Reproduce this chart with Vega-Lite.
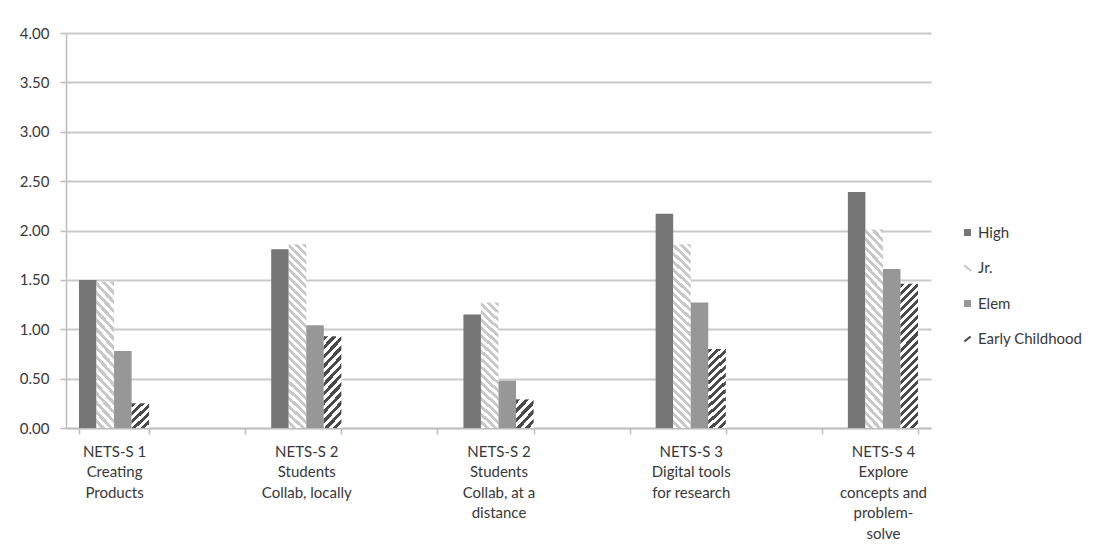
{
  "$schema": "https://vega.github.io/schema/vega-lite/v6.json",
  "autosize": {"type": "none"},
  "width": 865,
  "height": 395,
  "padding": {"left": 66, "top": 33, "right": 166, "bottom": 122},
  "background": "#ffffff",
  "config": {
    "font": "Lato",
    "view": {"stroke": null},
    "axis": {"labelFont": "Lato", "labelFontSize": 15, "labelColor": "#383838", "domainColor": "#bdbdbd", "domainWidth": 1.5, "tickColor": "#bdbdbd", "tickWidth": 1.5, "tickSize": 6, "title": null},
    "legend": {"labelFont": "Lato", "labelFontSize": 15, "labelColor": "#383838"}
  },
  "data": {
    "values": [
      {"category": "NETS-S 1|Creating|Products", "series": "High", "value": 1.50},
      {"category": "NETS-S 1|Creating|Products", "series": "Jr.", "value": 1.48},
      {"category": "NETS-S 1|Creating|Products", "series": "Elem", "value": 0.78},
      {"category": "NETS-S 1|Creating|Products", "series": "Early Childhood", "value": 0.25},
      {"category": "NETS-S 2|Students|Collab, locally", "series": "High", "value": 1.81},
      {"category": "NETS-S 2|Students|Collab, locally", "series": "Jr.", "value": 1.86},
      {"category": "NETS-S 2|Students|Collab, locally", "series": "Elem", "value": 1.04},
      {"category": "NETS-S 2|Students|Collab, locally", "series": "Early Childhood", "value": 0.93},
      {"category": "NETS-S 2|Students|Collab, at a|distance", "series": "High", "value": 1.15},
      {"category": "NETS-S 2|Students|Collab, at a|distance", "series": "Jr.", "value": 1.27},
      {"category": "NETS-S 2|Students|Collab, at a|distance", "series": "Elem", "value": 0.48},
      {"category": "NETS-S 2|Students|Collab, at a|distance", "series": "Early Childhood", "value": 0.29},
      {"category": "NETS-S 3|Digital tools|for research", "series": "High", "value": 2.17},
      {"category": "NETS-S 3|Digital tools|for research", "series": "Jr.", "value": 1.86},
      {"category": "NETS-S 3|Digital tools|for research", "series": "Elem", "value": 1.27},
      {"category": "NETS-S 3|Digital tools|for research", "series": "Early Childhood", "value": 0.80},
      {"category": "NETS-S 4|Explore|concepts and|problem-|solve", "series": "High", "value": 2.39},
      {"category": "NETS-S 4|Explore|concepts and|problem-|solve", "series": "Jr.", "value": 2.01},
      {"category": "NETS-S 4|Explore|concepts and|problem-|solve", "series": "Elem", "value": 1.61},
      {"category": "NETS-S 4|Explore|concepts and|problem-|solve", "series": "Early Childhood", "value": 1.46}
    ]
  },
  "mark": {"type": "bar"},
  "encoding": {
    "x": {
      "field": "category",
      "type": "nominal",
      "sort": null,
      "scale": {
        "domain": ["NETS-S 1|Creating|Products", "g1", "NETS-S 2|Students|Collab, locally", "g2", "NETS-S 2|Students|Collab, at a|distance", "g3", "NETS-S 3|Digital tools|for research", "g4", "NETS-S 4|Explore|concepts and|problem-|solve"],
        "paddingInner": 0.27,
        "paddingOuter": 0.135
      },
      "axis": {
        "labelAngle": 0,
        "labelExpr": "datum.label[0] == 'g' ? '' : split(datum.label, '|')",
        "labelLineHeight": 20.5,
        "labelPadding": 10,
        "labelOverlap": false,
        "labelLimit": 0,
        "tickBand": "extent",
        "grid": false
      }
    },
    "xOffset": {
      "field": "series",
      "type": "nominal",
      "sort": ["High", "Jr.", "Elem", "Early Childhood"],
      "scale": {"paddingInner": 0, "paddingOuter": 0}
    },
    "y": {
      "field": "value",
      "type": "quantitative",
      "scale": {"domain": [0, 4], "nice": false, "zero": true},
      "axis": {
        "values": [0, 0.5, 1, 1.5, 2, 2.5, 3, 3.5, 4],
        "format": ".2f",
        "grid": true,
        "gridColor": "#cacaca",
        "gridWidth": 2,
        "labelPadding": 11
      }
    },
    "fill": {
      "field": "series",
      "type": "nominal",
      "sort": ["High", "Jr.", "Elem", "Early Childhood"],
      "scale": {"domain": ["High", "Jr.", "Elem", "Early Childhood"], "range": ["#767676", "#d0d0d0", "#979797", "#4a4a4a"]},
      "legend": {
        "title": null,
        "orient": "none",
        "legendX": 894,
        "legendY": 192,
        "padding": 0,
        "symbolSize": 49,
        "symbolType": "square",
        "labelOffset": 3,
        "rowPadding": 19.5,
        "encode": {
          "symbols": {
            "update": {
              "shape": {"signal": "datum.value == 'Jr.' ? 'M-1,-0.8L1,0.8' : datum.value == 'Early Childhood' ? 'M-0.9,0.7L0.9,-0.7' : 'square'"},
              "stroke": {"signal": "datum.value == 'Jr.' ? '#c8c8c8' : datum.value == 'Early Childhood' ? '#444444' : 'transparent'"},
              "strokeWidth": {"value": 2}
            }
          }
        }
      },
      "condition": [
        {
          "test": "datum.series == 'Jr.' && datum.value < 1.6",
          "value": {"gradient": "linear", "x1": 1, "y1": 0, "x2": 0.8557, "y2": 1.111, "stops": [
            {"offset":0,"color":"#c8c8c8"},
            {"offset":0.028,"color":"#c8c8c8"},{"offset":0.028,"color":"#ffffff"},
            {"offset":0.056,"color":"#ffffff"},{"offset":0.056,"color":"#c8c8c8"},
            {"offset":0.083,"color":"#c8c8c8"},{"offset":0.083,"color":"#ffffff"},
            {"offset":0.111,"color":"#ffffff"},{"offset":0.111,"color":"#c8c8c8"},
            {"offset":0.139,"color":"#c8c8c8"},{"offset":0.139,"color":"#ffffff"},
            {"offset":0.167,"color":"#ffffff"},{"offset":0.167,"color":"#c8c8c8"},
            {"offset":0.194,"color":"#c8c8c8"},{"offset":0.194,"color":"#ffffff"},
            {"offset":0.222,"color":"#ffffff"},{"offset":0.222,"color":"#c8c8c8"},
            {"offset":0.25,"color":"#c8c8c8"},{"offset":0.25,"color":"#ffffff"},
            {"offset":0.278,"color":"#ffffff"},{"offset":0.278,"color":"#c8c8c8"},
            {"offset":0.306,"color":"#c8c8c8"},{"offset":0.306,"color":"#ffffff"},
            {"offset":0.333,"color":"#ffffff"},{"offset":0.333,"color":"#c8c8c8"},
            {"offset":0.361,"color":"#c8c8c8"},{"offset":0.361,"color":"#ffffff"},
            {"offset":0.389,"color":"#ffffff"},{"offset":0.389,"color":"#c8c8c8"},
            {"offset":0.417,"color":"#c8c8c8"},{"offset":0.417,"color":"#ffffff"},
            {"offset":0.444,"color":"#ffffff"},{"offset":0.444,"color":"#c8c8c8"},
            {"offset":0.472,"color":"#c8c8c8"},{"offset":0.472,"color":"#ffffff"},
            {"offset":0.5,"color":"#ffffff"},{"offset":0.5,"color":"#c8c8c8"},
            {"offset":0.528,"color":"#c8c8c8"},{"offset":0.528,"color":"#ffffff"},
            {"offset":0.556,"color":"#ffffff"},{"offset":0.556,"color":"#c8c8c8"},
            {"offset":0.583,"color":"#c8c8c8"},{"offset":0.583,"color":"#ffffff"},
            {"offset":0.611,"color":"#ffffff"},{"offset":0.611,"color":"#c8c8c8"},
            {"offset":0.639,"color":"#c8c8c8"},{"offset":0.639,"color":"#ffffff"},
            {"offset":0.667,"color":"#ffffff"},{"offset":0.667,"color":"#c8c8c8"},
            {"offset":0.694,"color":"#c8c8c8"},{"offset":0.694,"color":"#ffffff"},
            {"offset":0.722,"color":"#ffffff"},{"offset":0.722,"color":"#c8c8c8"},
            {"offset":0.75,"color":"#c8c8c8"},{"offset":0.75,"color":"#ffffff"},
            {"offset":0.778,"color":"#ffffff"},{"offset":0.778,"color":"#c8c8c8"},
            {"offset":0.806,"color":"#c8c8c8"},{"offset":0.806,"color":"#ffffff"},
            {"offset":0.833,"color":"#ffffff"},{"offset":0.833,"color":"#c8c8c8"},
            {"offset":0.861,"color":"#c8c8c8"},{"offset":0.861,"color":"#ffffff"},
            {"offset":0.889,"color":"#ffffff"},{"offset":0.889,"color":"#c8c8c8"},
            {"offset":0.917,"color":"#c8c8c8"},{"offset":0.917,"color":"#ffffff"},
            {"offset":0.944,"color":"#ffffff"},{"offset":0.944,"color":"#c8c8c8"},
            {"offset":0.972,"color":"#c8c8c8"},{"offset":0.972,"color":"#ffffff"},
            {"offset":1,"color":"#ffffff"}
          ]}
        },
        {
          "test": "datum.series == 'Jr.'",
          "value": {"gradient": "linear", "x1": 1, "y1": 0, "x2": 0.8987, "y2": 1.0839, "stops": [
            {"offset":0,"color":"#c8c8c8"},
            {"offset":0.02,"color":"#c8c8c8"},{"offset":0.02,"color":"#ffffff"},
            {"offset":0.04,"color":"#ffffff"},{"offset":0.04,"color":"#c8c8c8"},
            {"offset":0.06,"color":"#c8c8c8"},{"offset":0.06,"color":"#ffffff"},
            {"offset":0.08,"color":"#ffffff"},{"offset":0.08,"color":"#c8c8c8"},
            {"offset":0.1,"color":"#c8c8c8"},{"offset":0.1,"color":"#ffffff"},
            {"offset":0.12,"color":"#ffffff"},{"offset":0.12,"color":"#c8c8c8"},
            {"offset":0.14,"color":"#c8c8c8"},{"offset":0.14,"color":"#ffffff"},
            {"offset":0.16,"color":"#ffffff"},{"offset":0.16,"color":"#c8c8c8"},
            {"offset":0.18,"color":"#c8c8c8"},{"offset":0.18,"color":"#ffffff"},
            {"offset":0.2,"color":"#ffffff"},{"offset":0.2,"color":"#c8c8c8"},
            {"offset":0.22,"color":"#c8c8c8"},{"offset":0.22,"color":"#ffffff"},
            {"offset":0.24,"color":"#ffffff"},{"offset":0.24,"color":"#c8c8c8"},
            {"offset":0.26,"color":"#c8c8c8"},{"offset":0.26,"color":"#ffffff"},
            {"offset":0.28,"color":"#ffffff"},{"offset":0.28,"color":"#c8c8c8"},
            {"offset":0.3,"color":"#c8c8c8"},{"offset":0.3,"color":"#ffffff"},
            {"offset":0.32,"color":"#ffffff"},{"offset":0.32,"color":"#c8c8c8"},
            {"offset":0.34,"color":"#c8c8c8"},{"offset":0.34,"color":"#ffffff"},
            {"offset":0.36,"color":"#ffffff"},{"offset":0.36,"color":"#c8c8c8"},
            {"offset":0.38,"color":"#c8c8c8"},{"offset":0.38,"color":"#ffffff"},
            {"offset":0.4,"color":"#ffffff"},{"offset":0.4,"color":"#c8c8c8"},
            {"offset":0.42,"color":"#c8c8c8"},{"offset":0.42,"color":"#ffffff"},
            {"offset":0.44,"color":"#ffffff"},{"offset":0.44,"color":"#c8c8c8"},
            {"offset":0.46,"color":"#c8c8c8"},{"offset":0.46,"color":"#ffffff"},
            {"offset":0.48,"color":"#ffffff"},{"offset":0.48,"color":"#c8c8c8"},
            {"offset":0.5,"color":"#c8c8c8"},{"offset":0.5,"color":"#ffffff"},
            {"offset":0.52,"color":"#ffffff"},{"offset":0.52,"color":"#c8c8c8"},
            {"offset":0.54,"color":"#c8c8c8"},{"offset":0.54,"color":"#ffffff"},
            {"offset":0.56,"color":"#ffffff"},{"offset":0.56,"color":"#c8c8c8"},
            {"offset":0.58,"color":"#c8c8c8"},{"offset":0.58,"color":"#ffffff"},
            {"offset":0.6,"color":"#ffffff"},{"offset":0.6,"color":"#c8c8c8"},
            {"offset":0.62,"color":"#c8c8c8"},{"offset":0.62,"color":"#ffffff"},
            {"offset":0.64,"color":"#ffffff"},{"offset":0.64,"color":"#c8c8c8"},
            {"offset":0.66,"color":"#c8c8c8"},{"offset":0.66,"color":"#ffffff"},
            {"offset":0.68,"color":"#ffffff"},{"offset":0.68,"color":"#c8c8c8"},
            {"offset":0.7,"color":"#c8c8c8"},{"offset":0.7,"color":"#ffffff"},
            {"offset":0.72,"color":"#ffffff"},{"offset":0.72,"color":"#c8c8c8"},
            {"offset":0.74,"color":"#c8c8c8"},{"offset":0.74,"color":"#ffffff"},
            {"offset":0.76,"color":"#ffffff"},{"offset":0.76,"color":"#c8c8c8"},
            {"offset":0.78,"color":"#c8c8c8"},{"offset":0.78,"color":"#ffffff"},
            {"offset":0.8,"color":"#ffffff"},{"offset":0.8,"color":"#c8c8c8"},
            {"offset":0.82,"color":"#c8c8c8"},{"offset":0.82,"color":"#ffffff"},
            {"offset":0.84,"color":"#ffffff"},{"offset":0.84,"color":"#c8c8c8"},
            {"offset":0.86,"color":"#c8c8c8"},{"offset":0.86,"color":"#ffffff"},
            {"offset":0.88,"color":"#ffffff"},{"offset":0.88,"color":"#c8c8c8"},
            {"offset":0.9,"color":"#c8c8c8"},{"offset":0.9,"color":"#ffffff"},
            {"offset":0.92,"color":"#ffffff"},{"offset":0.92,"color":"#c8c8c8"},
            {"offset":0.94,"color":"#c8c8c8"},{"offset":0.94,"color":"#ffffff"},
            {"offset":0.96,"color":"#ffffff"},{"offset":0.96,"color":"#c8c8c8"},
            {"offset":0.98,"color":"#c8c8c8"},{"offset":0.98,"color":"#ffffff"},
            {"offset":1,"color":"#ffffff"}
          ]}
        },
        {
          "test": "datum.series == 'Early Childhood' && datum.value < 0.5",
          "value": {"gradient": "linear", "x1": 0, "y1": 0, "x2": 0.7534, "y2": 1.1602, "stops": [
            {"offset":0,"color":"#4a4a4a"},
            {"offset":0.1,"color":"#4a4a4a"},{"offset":0.1,"color":"#ffffff"},
            {"offset":0.2,"color":"#ffffff"},{"offset":0.2,"color":"#4a4a4a"},
            {"offset":0.3,"color":"#4a4a4a"},{"offset":0.3,"color":"#ffffff"},
            {"offset":0.4,"color":"#ffffff"},{"offset":0.4,"color":"#4a4a4a"},
            {"offset":0.5,"color":"#4a4a4a"},{"offset":0.5,"color":"#ffffff"},
            {"offset":0.6,"color":"#ffffff"},{"offset":0.6,"color":"#4a4a4a"},
            {"offset":0.7,"color":"#4a4a4a"},{"offset":0.7,"color":"#ffffff"},
            {"offset":0.8,"color":"#ffffff"},{"offset":0.8,"color":"#4a4a4a"},
            {"offset":0.9,"color":"#4a4a4a"},{"offset":0.9,"color":"#ffffff"},
            {"offset":1,"color":"#ffffff"}
          ]}
        },
        {
          "test": "datum.series == 'Early Childhood' && datum.value < 1.2",
          "value": {"gradient": "linear", "x1": 0, "y1": 0, "x2": 0.2359, "y2": 1.156, "stops": [
            {"offset":0,"color":"#4a4a4a"},
            {"offset":0.042,"color":"#4a4a4a"},{"offset":0.042,"color":"#ffffff"},
            {"offset":0.083,"color":"#ffffff"},{"offset":0.083,"color":"#4a4a4a"},
            {"offset":0.125,"color":"#4a4a4a"},{"offset":0.125,"color":"#ffffff"},
            {"offset":0.167,"color":"#ffffff"},{"offset":0.167,"color":"#4a4a4a"},
            {"offset":0.208,"color":"#4a4a4a"},{"offset":0.208,"color":"#ffffff"},
            {"offset":0.25,"color":"#ffffff"},{"offset":0.25,"color":"#4a4a4a"},
            {"offset":0.292,"color":"#4a4a4a"},{"offset":0.292,"color":"#ffffff"},
            {"offset":0.333,"color":"#ffffff"},{"offset":0.333,"color":"#4a4a4a"},
            {"offset":0.375,"color":"#4a4a4a"},{"offset":0.375,"color":"#ffffff"},
            {"offset":0.417,"color":"#ffffff"},{"offset":0.417,"color":"#4a4a4a"},
            {"offset":0.458,"color":"#4a4a4a"},{"offset":0.458,"color":"#ffffff"},
            {"offset":0.5,"color":"#ffffff"},{"offset":0.5,"color":"#4a4a4a"},
            {"offset":0.542,"color":"#4a4a4a"},{"offset":0.542,"color":"#ffffff"},
            {"offset":0.583,"color":"#ffffff"},{"offset":0.583,"color":"#4a4a4a"},
            {"offset":0.625,"color":"#4a4a4a"},{"offset":0.625,"color":"#ffffff"},
            {"offset":0.667,"color":"#ffffff"},{"offset":0.667,"color":"#4a4a4a"},
            {"offset":0.708,"color":"#4a4a4a"},{"offset":0.708,"color":"#ffffff"},
            {"offset":0.75,"color":"#ffffff"},{"offset":0.75,"color":"#4a4a4a"},
            {"offset":0.792,"color":"#4a4a4a"},{"offset":0.792,"color":"#ffffff"},
            {"offset":0.833,"color":"#ffffff"},{"offset":0.833,"color":"#4a4a4a"},
            {"offset":0.875,"color":"#4a4a4a"},{"offset":0.875,"color":"#ffffff"},
            {"offset":0.917,"color":"#ffffff"},{"offset":0.917,"color":"#4a4a4a"},
            {"offset":0.958,"color":"#4a4a4a"},{"offset":0.958,"color":"#ffffff"},
            {"offset":1,"color":"#ffffff"}
          ]}
        },
        {
          "test": "datum.series == 'Early Childhood'",
          "value": {"gradient": "linear", "x1": 0, "y1": 0, "x2": 0.1348, "y2": 1.1055, "stops": [
            {"offset":0,"color":"#4a4a4a"},
            {"offset":0.025,"color":"#4a4a4a"},{"offset":0.025,"color":"#ffffff"},
            {"offset":0.05,"color":"#ffffff"},{"offset":0.05,"color":"#4a4a4a"},
            {"offset":0.075,"color":"#4a4a4a"},{"offset":0.075,"color":"#ffffff"},
            {"offset":0.1,"color":"#ffffff"},{"offset":0.1,"color":"#4a4a4a"},
            {"offset":0.125,"color":"#4a4a4a"},{"offset":0.125,"color":"#ffffff"},
            {"offset":0.15,"color":"#ffffff"},{"offset":0.15,"color":"#4a4a4a"},
            {"offset":0.175,"color":"#4a4a4a"},{"offset":0.175,"color":"#ffffff"},
            {"offset":0.2,"color":"#ffffff"},{"offset":0.2,"color":"#4a4a4a"},
            {"offset":0.225,"color":"#4a4a4a"},{"offset":0.225,"color":"#ffffff"},
            {"offset":0.25,"color":"#ffffff"},{"offset":0.25,"color":"#4a4a4a"},
            {"offset":0.275,"color":"#4a4a4a"},{"offset":0.275,"color":"#ffffff"},
            {"offset":0.3,"color":"#ffffff"},{"offset":0.3,"color":"#4a4a4a"},
            {"offset":0.325,"color":"#4a4a4a"},{"offset":0.325,"color":"#ffffff"},
            {"offset":0.35,"color":"#ffffff"},{"offset":0.35,"color":"#4a4a4a"},
            {"offset":0.375,"color":"#4a4a4a"},{"offset":0.375,"color":"#ffffff"},
            {"offset":0.4,"color":"#ffffff"},{"offset":0.4,"color":"#4a4a4a"},
            {"offset":0.425,"color":"#4a4a4a"},{"offset":0.425,"color":"#ffffff"},
            {"offset":0.45,"color":"#ffffff"},{"offset":0.45,"color":"#4a4a4a"},
            {"offset":0.475,"color":"#4a4a4a"},{"offset":0.475,"color":"#ffffff"},
            {"offset":0.5,"color":"#ffffff"},{"offset":0.5,"color":"#4a4a4a"},
            {"offset":0.525,"color":"#4a4a4a"},{"offset":0.525,"color":"#ffffff"},
            {"offset":0.55,"color":"#ffffff"},{"offset":0.55,"color":"#4a4a4a"},
            {"offset":0.575,"color":"#4a4a4a"},{"offset":0.575,"color":"#ffffff"},
            {"offset":0.6,"color":"#ffffff"},{"offset":0.6,"color":"#4a4a4a"},
            {"offset":0.625,"color":"#4a4a4a"},{"offset":0.625,"color":"#ffffff"},
            {"offset":0.65,"color":"#ffffff"},{"offset":0.65,"color":"#4a4a4a"},
            {"offset":0.675,"color":"#4a4a4a"},{"offset":0.675,"color":"#ffffff"},
            {"offset":0.7,"color":"#ffffff"},{"offset":0.7,"color":"#4a4a4a"},
            {"offset":0.725,"color":"#4a4a4a"},{"offset":0.725,"color":"#ffffff"},
            {"offset":0.75,"color":"#ffffff"},{"offset":0.75,"color":"#4a4a4a"},
            {"offset":0.775,"color":"#4a4a4a"},{"offset":0.775,"color":"#ffffff"},
            {"offset":0.8,"color":"#ffffff"},{"offset":0.8,"color":"#4a4a4a"},
            {"offset":0.825,"color":"#4a4a4a"},{"offset":0.825,"color":"#ffffff"},
            {"offset":0.85,"color":"#ffffff"},{"offset":0.85,"color":"#4a4a4a"},
            {"offset":0.875,"color":"#4a4a4a"},{"offset":0.875,"color":"#ffffff"},
            {"offset":0.9,"color":"#ffffff"},{"offset":0.9,"color":"#4a4a4a"},
            {"offset":0.925,"color":"#4a4a4a"},{"offset":0.925,"color":"#ffffff"},
            {"offset":0.95,"color":"#ffffff"},{"offset":0.95,"color":"#4a4a4a"},
            {"offset":0.975,"color":"#4a4a4a"},{"offset":0.975,"color":"#ffffff"},
            {"offset":1,"color":"#ffffff"}
          ]}
        }
      ]
    }
  }
}
